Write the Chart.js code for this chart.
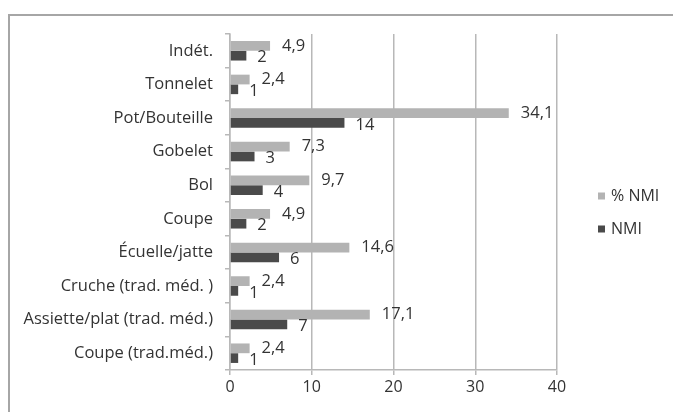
<!DOCTYPE html>
<html>
<head>
<meta charset="utf-8">
<script src="https://cdn.jsdelivr.net/npm/chart.js@4.4.1/dist/chart.umd.min.js"></script>
<style>
  body { margin: 0; background: #fff; overflow: hidden; }
  #frame { position: absolute; left: 8px; top: 14px; width: 700px; height: 420px; border: 2px solid #a6a6a6; box-sizing: border-box; }
  #wrap { position: absolute; left: 0; top: 0; width: 673px; height: 412px; }
</style>
</head>
<body>
<div id="frame"></div>
<div id="wrap"><canvas id="myChart" width="673" height="412"></canvas></div>
<script>
// categories, top to bottom
const categories = ["Indét.", "Tonnelet", "Pot/Bouteille", "Gobelet", "Bol", "Coupe",
    "Écuelle/jatte", "Cruche (trad. méd. )", "Assiette/plat (trad. méd.)", "Coupe (trad.méd.)"];
const pctNmi = [4.9, 2.4, 34.1, 7.3, 9.7, 4.9, 14.6, 2.4, 17.1, 2.4];
const nmi = [2, 1, 14, 3, 4, 2, 6, 1, 7, 1];
const xTicks = [0, 10, 20, 30, 40];

const textColor = '#333333';
const fontFamily = '"Open Sans", Lato, sans-serif';

// value labels next to the bar ends, like the Excel original
const barLabels = {
    id: 'barLabels',
    afterDatasetsDraw(chart) {
        const ctx = chart.ctx;
        ctx.save();
        ctx.font = '16.5px ' + fontFamily;
        ctx.fillStyle = textColor;
        ctx.textAlign = 'left';
        ctx.textBaseline = 'middle';
        chart.data.datasets.forEach((ds, di) => {
            const meta = chart.getDatasetMeta(di);
            meta.data.forEach((bar, i) => {
                const txt = String(ds.data[i]).replace('.', ',');
                if (di === 0) {
                    ctx.fillText(txt, bar.x + 12, bar.y);
                } else {
                    ctx.fillText(txt, bar.x + 11, bar.y + 2);
                }
            });
        });
        ctx.restore();
    }
};

// legend to the right of the plot, small square markers
const sideLegend = {
    id: 'sideLegend',
    afterDraw(chart) {
        const ctx = chart.ctx;
        const area = chart.chartArea;
        const mid = (area.top + area.bottom) / 2;
        ctx.save();
        ctx.font = '16px ' + fontFamily;
        ctx.textAlign = 'left';
        ctx.textBaseline = 'middle';
        chart.data.datasets.forEach((ds, di) => {
            const y = mid - 6 + di * 33;
            const x = area.right + 41;
            ctx.fillStyle = ds.backgroundColor;
            ctx.fillRect(x, y - 3.5, 7, 7);
            ctx.fillStyle = textColor;
            ctx.fillText(ds.label, x + 13, y);
        });
        ctx.restore();
    }
};

var ctx = document.getElementById('myChart').getContext('2d');
var config = {
    type: 'bar',
    data: {
        labels: categories,
        datasets: [{
            label: '% NMI',
            data: pctNmi,
            backgroundColor: '#b3b3b3',
            categoryPercentage: 0.58,
            barPercentage: 1.0,
        }, {
            label: 'NMI',
            data: nmi,
            backgroundColor: '#4a4a4a',
            categoryPercentage: 0.58,
            barPercentage: 1.0,
        }]
    },
    options: {
        indexAxis: 'y',
        responsive: false,
        animation: false,
        layout: { padding: { left: 20, top: 34, right: 116, bottom: 10 } },
        scales: {
            x: {
                min: 0,
                max: 40,
                afterBuildTicks: s => { s.ticks = xTicks.map(v => ({ value: v })); },
                grid: { color: '#b8b8b8', lineWidth: 1.5, tickLength: 5 },
                border: { color: '#b8b8b8', width: 1.5 },
                ticks: { color: textColor, font: { family: fontFamily, size: 16 }, padding: 3 },
                afterFit: s => { s.height = 32; }
            },
            y: {
                grid: { drawOnChartArea: false, color: '#b8b8b8', lineWidth: 1.5, tickLength: 5 },
                border: { color: '#b8b8b8', width: 1.5 },
                ticks: { color: textColor, font: { family: fontFamily, size: 16.5 }, padding: 12 },
                afterFit: s => { s.width = 210; }
            }
        },
        plugins: {
            legend: { display: false },
            tooltip: { enabled: false }
        }
    },
    plugins: [barLabels, sideLegend]
};

var myChart = new Chart(ctx, config);
</script>
</body>
</html>
